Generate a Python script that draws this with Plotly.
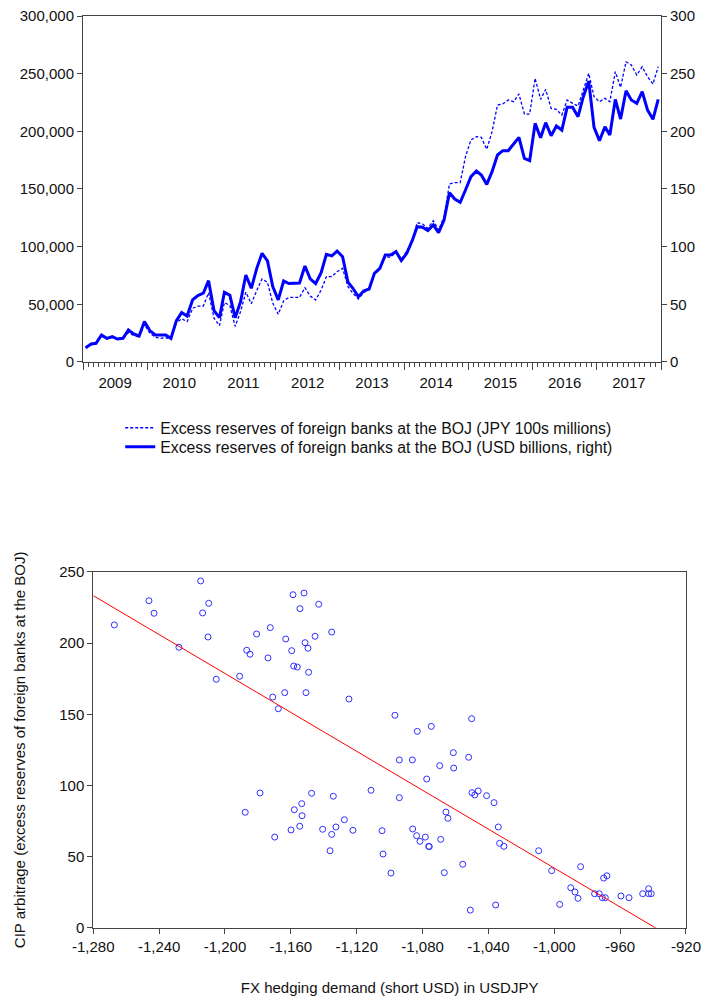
"""Two-panel chart: BOJ excess reserves of foreign banks (monthly, 2009-2017)
and a scatter of CIP arbitrage against FX hedging demand with a linear fit."""
import numpy as np
import pandas as pd
import plotly.graph_objects as go

FONT = "Arial, Liberation Sans, sans-serif"
BLUE = "#0000ff"

# monthly observations, Jan 2009 .. Dec 2017
MONTHS = pd.date_range("2009-01-01", "2017-12-01", freq="MS") + pd.Timedelta(days=15)

# excess reserves, JPY 100s millions (left axis)
RESERVES_JPY = [v * 1000 for v in [
    12, 15, 16, 22.5, 20, 21.5, 19.5, 20, 25.5, 23,
    21.5, 32.5, 25, 21.5, 20.5, 21, 20, 34, 37.5, 35,
    46.5, 48.5, 48.5, 60, 38, 31.5, 51.5, 49, 30.8, 43.8,
    60.5, 50.5, 62, 72, 69, 51, 41.3, 53, 56, 56,
    56, 64.4, 57.2, 53.8, 62.4, 74, 74, 78.3, 81.2, 65.3,
    59.5, 54.6, 60, 63, 76, 81, 91, 91, 95, 89,
    96, 105, 120.8, 119.6, 115.9, 122.5, 114.4, 126, 154.3, 155.5,
    155.5, 178, 192.5, 195.4, 194.8, 184.4, 199.7, 222.8, 223.7, 227.2,
    225.7, 232.4, 215, 215, 246, 227.7, 236.4, 219.9, 219, 214.1,
    227.2, 224.3, 222, 235.8, 250.3, 230, 225.7, 228.6, 225.7, 251.7,
    238.1, 260.4, 257.5, 248.8, 256, 247.4, 241, 256,
]]

# excess reserves, USD billions (right axis)
RESERVES_USD = [
    12.4, 15.6, 16.2, 23.4, 20.5, 21.9, 19.9, 20.5, 27.7, 24.3,
    22.5, 35, 27.2, 23.4, 23.4, 23.4, 20.5, 35.8, 42.8, 39.9,
    53.8, 57.5, 59.6, 70.5, 44.5, 38.4, 60.4, 57.8, 38.4, 52.3,
    75.4, 63.9, 81.2, 94.2, 87.6, 65.3, 53.8, 70.2, 68, 68,
    68.5, 83.2, 72, 68, 77.4, 93.4, 92, 96.2, 91.3, 69.1,
    63.9, 56.6, 61.6, 63.3, 76.9, 81.2, 92.8, 92.8, 95.7, 87.9,
    94.2, 105.2, 117.3, 116.8, 113.9, 118.8, 112.1, 123.1, 146.8, 141.3,
    138.4, 149.1, 160.7, 165.6, 162.1, 154.0, 165.0, 179.5, 183.2, 183.2,
    189.0, 194.8, 176.6, 174.6, 206.9, 194.5, 207.5, 196.2, 204.6, 201.1,
    220.8, 220.8, 212.7, 230.0, 243.6, 203.5, 191.9, 204.0, 196.8, 227.7,
    210.7, 235.2, 227.2, 224.3, 234.4, 218.5, 210.4, 227.7,
]

# scatter: FX hedging demand (x) vs CIP arbitrage (y)
HEDGE = [
    -1267.2, -1246.2, -1243.1, -1228.0, -1214.8, -1213.6, -1209.9, -1210.3, -1205.3, -1191.1,
    -1186.8, -1184.8, -1180.8, -1173.9, -1172.5, -1171.0, -1167.6, -1163.7, -1163.1, -1159.5,
    -1158.7, -1158.3, -1156.1, -1154.5, -1152.0, -1151.4, -1150.8, -1149.6, -1149.2, -1145.3,
    -1143.1, -1135.2, -1124.7, -1096.8, -1083.2, -1074.7, -1050.2, -1061.3, -1052.0, -1094.1,
    -1086.2, -1069.6, -1061.1, -1077.5, -1111.3, -1094.1, -1050.0, -1048.3, -1046.2, -1041.1,
    -1036.6, -1065.8, -1064.6, -1104.6, -1086.0, -1083.6, -1081.6, -1078.3, -1076.3, -1075.9,
    -1069.0, -1034.0, -1033.2, -1030.6, -1104.0, -1099.2, -1055.6, -1066.8, -1051.0, -1035.6,
    -1009.5, -1001.6, -996.7, -984.0, -990.0, -987.4, -985.6, -975.5, -972.7, -970.8,
    -969.0, -970.0, -968.0, -959.5, -954.6, -946.3, -942.7, -942.7, -941.1, -1187.7,
    -1178.7, -1169.8, -1159.9, -1157.9, -1154.6, -1153.4, -1153.2, -1147.4, -1140.7, -1135.2,
    -1136.2, -1134.2, -1132.6, -1127.5, -1122.3,
]
CIP = [
    212.8, 229.8, 221.0, 197.1, 243.7, 221.2, 228.0, 204.3, 174.6, 176.7,
    195.0, 192.2, 206.4, 189.6, 210.9, 162.1, 153.9, 165.2, 202.9, 194.7,
    234.0, 183.9, 183.2, 224.2, 235.2, 200.3, 165.2, 196.4, 179.5, 204.8,
    227.3, 207.8, 160.7, 149.3, 138.0, 141.5, 146.9, 123.0, 119.8, 117.9,
    117.9, 113.9, 112.2, 104.5, 96.6, 91.4, 94.9, 93.3, 96.1, 92.8,
    87.9, 81.3, 76.9, 68.2, 69.4, 64.7, 60.7, 63.7, 57.2, 57.0,
    62.1, 70.8, 59.3, 57.2, 51.8, 38.4, 44.6, 38.7, 12.4, 16.0,
    54.1, 40.1, 16.4, 42.9, 28.1, 25.1, 20.7, 23.9, 23.9, 21.1,
    21.1, 34.9, 36.5, 22.3, 21.1, 23.9, 27.4, 23.9, 23.9, 81.1,
    94.7, 63.7, 68.7, 82.9, 71.3, 87.2, 78.7, 94.5, 69.2, 65.6,
    54.1, 92.4, 70.8, 75.9, 68.5,
]

HEDGE_TICKS = list(range(-1280, -919, 40))
HEDGE_LABELS = [f"{v:,}" for v in HEDGE_TICKS]

slope, intercept = np.polyfit(HEDGE, CIP, 1)
fit_x = [HEDGE_TICKS[0], HEDGE_TICKS[-1]]
fit_y = [slope * v + intercept for v in fit_x]

fig = go.Figure()
fig.add_trace(go.Scatter(
    x=MONTHS, y=RESERVES_JPY, mode="lines", yaxis="y", xaxis="x", legend="legend",
    name="Excess reserves of foreign banks at the BOJ (JPY 100s millions)",
    line={"color": BLUE, "width": 1.3, "dash": "3px,2px"},
))
fig.add_trace(go.Scatter(
    x=MONTHS, y=RESERVES_USD, mode="lines", yaxis="y2", xaxis="x", legend="legend2",
    name="Excess reserves of foreign banks at the BOJ (USD billions, right)",
    line={"color": BLUE, "width": 3},
))
fig.add_trace(go.Scatter(
    x=HEDGE, y=CIP, mode="markers", xaxis="x3", yaxis="y3", showlegend=False,
    marker={"symbol": "circle-open", "size": 6, "color": "#3030ff",
            "line": {"width": 1}},
))
fig.add_trace(go.Scatter(
    x=fit_x, y=fit_y, mode="lines", xaxis="x3", yaxis="y3", showlegend=False,
    line={"color": "#ff0000", "width": 1},
))

axis_common = dict(showline=True, linecolor="#444", linewidth=1, showgrid=False,
                   zeroline=False, ticks="outside", tickcolor="#444", automargin=False,
                   tickfont={"size": 15, "color": "#111"})
legend_common = dict(x=0.171, xanchor="left", yanchor="middle",
                     font={"size": 15.8, "family": FONT}, bgcolor="rgba(0,0,0,0)",
                     itemwidth=30)

fig.update_layout(
    width=703, height=1001,
    margin={"l": 0, "r": 0, "t": 0, "b": 0},
    paper_bgcolor="white", plot_bgcolor="white",
    font={"family": FONT, "color": "#111"},
    xaxis=dict(axis_common, domain=[0.1181, 0.9403], anchor="y", type="date",
               range=["2009-01-01", "2018-01-01"], dtick="M12", tick0="2009-01-01",
               tickformat="%Y", ticklabelmode="period", ticklen=7, mirror=True,
               minor={"dtick": "M1", "ticks": "outside", "ticklen": 4,
                      "tickcolor": "#444"}),
    yaxis=dict(axis_common, domain=[0.6384, 0.984], anchor="x", range=[0, 300000],
               dtick=50000, tickformat=",", ticklen=5),
    yaxis2=dict(axis_common, overlaying="y", side="right", anchor="x",
                range=[0, 300], dtick=50, ticklen=5),
    xaxis3=dict(axis_common, domain=[0.1327, 0.9758], anchor="y3",
                range=[-1280, -920], tickvals=HEDGE_TICKS, ticktext=HEDGE_LABELS,
                ticklen=5, mirror=True,
                title={"text": "FX hedging demand (short USD) in USDJPY",
                       "font": {"size": 15}, "standoff": 28}),
    yaxis3=dict(axis_common, domain=[0.0732, 0.4286], anchor="x3", range=[0, 250],
                dtick=50, ticklen=5, mirror=True,
                title={"text": "CIP arbitrage (excess reserves of foreign banks at the BOJ)",
                       "font": {"size": 15}, "standoff": 30}),
    legend=dict(legend_common, y=1 - 428 / 1001),
    legend2=dict(legend_common, y=1 - 447 / 1001),
)

fig.write_html("out.html", config={"displayModeBar": False},
               post_script="document.body.style.margin = '0';")
